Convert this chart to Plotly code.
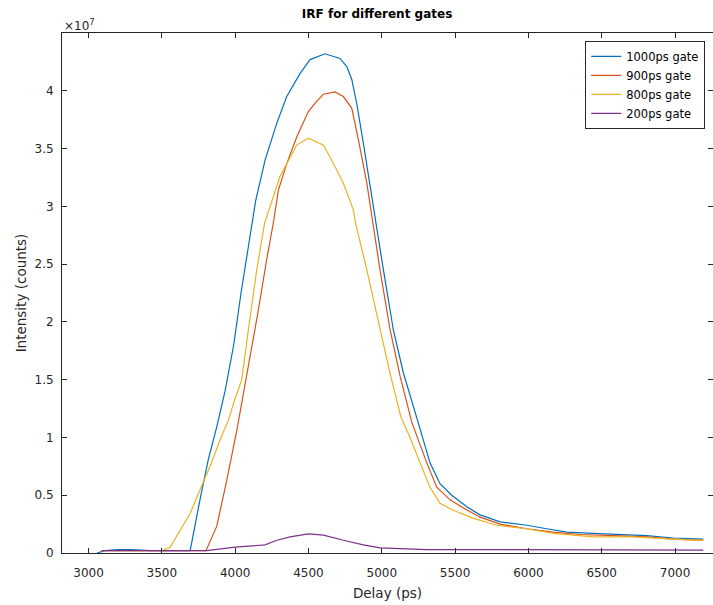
import plotly.graph_objects as go

# Delay axis in ps, intensities in units of 1e7 counts
delay_1000 = [3058, 3110, 3200, 3290, 3420, 3590, 3693, 3760, 3817, 3874, 3931, 3990, 4040,
              4090, 4140, 4204, 4284, 4352, 4443, 4511, 4613, 4715, 4761, 4795, 4829, 4874,
              4932, 4954, 5011, 5079, 5147, 5255, 5329, 5397, 5477, 5580, 5670, 5807, 5989,
              6125, 6262, 6443, 6580, 6807, 6989, 7193]
irf_1000 = [0.00, 0.02, 0.03, 0.03, 0.02, 0.02, 0.02, 0.46, 0.81, 1.09, 1.40, 1.80, 2.25,
            2.65, 3.05, 3.40, 3.72, 3.95, 4.15, 4.27, 4.32, 4.28, 4.21, 4.10, 3.89, 3.55,
            3.08, 2.88, 2.45, 1.93, 1.56, 1.10, 0.78, 0.60, 0.50, 0.40, 0.33, 0.27, 0.24,
            0.21, 0.18, 0.17, 0.16, 0.15, 0.13, 0.12]

delay_900 = [3090, 3200, 3400, 3600, 3801, 3874, 3943, 4011, 4045, 4102, 4158, 4215, 4261,
             4295, 4352, 4420, 4499, 4557, 4602, 4681, 4738, 4795, 4840, 4898, 4943, 4988,
             5057, 5125, 5205, 5307, 5375, 5466, 5557, 5670, 5807, 5989, 6170, 6352, 6580,
             6807, 6989, 7193]
irf_900 = [0.02, 0.02, 0.02, 0.02, 0.02, 0.23, 0.63, 1.06, 1.30, 1.67, 2.10, 2.54, 2.86,
           3.14, 3.37, 3.60, 3.82, 3.91, 3.97, 3.99, 3.95, 3.85, 3.58, 3.20, 2.82, 2.45,
           1.93, 1.53, 1.13, 0.78, 0.57, 0.46, 0.39, 0.31, 0.25, 0.21, 0.18, 0.16, 0.15,
           0.14, 0.12, 0.11]

delay_800 = [3090, 3300, 3500, 3556, 3613, 3692, 3761, 3829, 3897, 3954, 3995, 4045, 4090,
             4147, 4200, 4261, 4306, 4374, 4420, 4499, 4602, 4670, 4738, 4806, 4822, 4898,
             4988, 5057, 5130, 5193, 5261, 5329, 5397, 5488, 5625, 5784, 5989, 6170, 6443,
             6716, 6989, 7193]
irf_800 = [0.02, 0.02, 0.02, 0.05, 0.17, 0.34, 0.55, 0.75, 0.98, 1.15, 1.32, 1.50, 1.93,
           2.45, 2.85, 3.08, 3.26, 3.42, 3.53, 3.59, 3.53, 3.37, 3.20, 2.97, 2.85, 2.45,
           1.93, 1.55, 1.18, 1.00, 0.78, 0.57, 0.43, 0.37, 0.30, 0.24, 0.21, 0.17, 0.14,
           0.14, 0.12, 0.11]

delay_200 = [3090, 3300, 3500, 3700, 3806, 3999, 4102, 4204, 4284, 4374, 4499, 4602, 4738,
             4874, 4988, 5147, 5307, 5600, 6000, 6500, 7000, 7193]
irf_200 = [0.02, 0.02, 0.02, 0.02, 0.02, 0.05, 0.06, 0.07, 0.11, 0.14, 0.165, 0.155, 0.11,
           0.07, 0.045, 0.035, 0.03, 0.03, 0.03, 0.025, 0.025, 0.025]

series = [
    ("1000ps gate", delay_1000, irf_1000, "#0072BD"),
    ("900ps gate", delay_900, irf_900, "#D95319"),
    ("800ps gate", delay_800, irf_800, "#EDB120"),
    ("200ps gate", delay_200, irf_200, "#7E2F8E"),
]

x_ticks = [3000, 3500, 4000, 4500, 5000, 5500, 6000, 6500, 7000]
y_ticks = [0, 0.5, 1, 1.5, 2, 2.5, 3, 3.5, 4]
y_tick_text = ["0", "0.5", "1", "1.5", "2", "2.5", "3", "3.5", "4"]

SCALE = 1e7
AX = "#262626"
FONT = "DejaVu Sans, Liberation Sans, Arial, sans-serif"

fig = go.Figure()
for name, xs, ys, color in series:
    fig.add_trace(go.Scatter(
        x=xs, y=[v * SCALE for v in ys], mode="lines", name=name,
        line=dict(color=color, width=1.2),
    ))

fig.update_layout(
    width=713, height=605,
    margin=dict(l=62, r=0, t=33, b=52),
    paper_bgcolor="white", plot_bgcolor="white",
    font=dict(family=FONT, color=AX, size=12),
    title=dict(text="<b>IRF for different gates</b>", x=0.484, xref="paper", xanchor="center",
               font=dict(size=12, color="black"), y=0.977, yref="container",
               yanchor="middle"),
    showlegend=True,
    legend=dict(x=0.988, y=0.985, xanchor="right", yanchor="top",
                bgcolor="white", bordercolor=AX, borderwidth=1,
                font=dict(size=11.5, color="black"), tracegroupgap=0),
)

fig.update_xaxes(
    range=[2819, 7259], tickvals=x_ticks, ticks="inside", ticklen=5,
    tickcolor=AX, showline=True, linecolor=AX, linewidth=1, mirror="ticks",
    showgrid=False, zeroline=False, tickfont=dict(size=12, color=AX),
    ticklabelstandoff=9,
    title=dict(text="Delay (ps)", font=dict(size=13.5, color=AX), standoff=9),
)
fig.update_yaxes(
    range=[0, 4.5 * SCALE], tickvals=[v * SCALE for v in y_ticks], ticktext=y_tick_text,
    ticks="inside", ticklen=5, tickcolor=AX, showline=True, linecolor=AX, linewidth=1,
    mirror="ticks", showgrid=False, zeroline=False, tickfont=dict(size=12, color=AX),
    ticklabelstandoff=5,
    title=dict(text="Intensity (counts)", font=dict(size=13.5, color=AX), standoff=4),
)

# exponent marker for the y axis
fig.add_annotation(text="×10<sup>7</sup>", xref="paper", yref="paper", x=0, y=1.0,
                   xanchor="left", yanchor="bottom", showarrow=False,
                   font=dict(size=12, color=AX), yshift=-2)

fig.write_html("out.html")
